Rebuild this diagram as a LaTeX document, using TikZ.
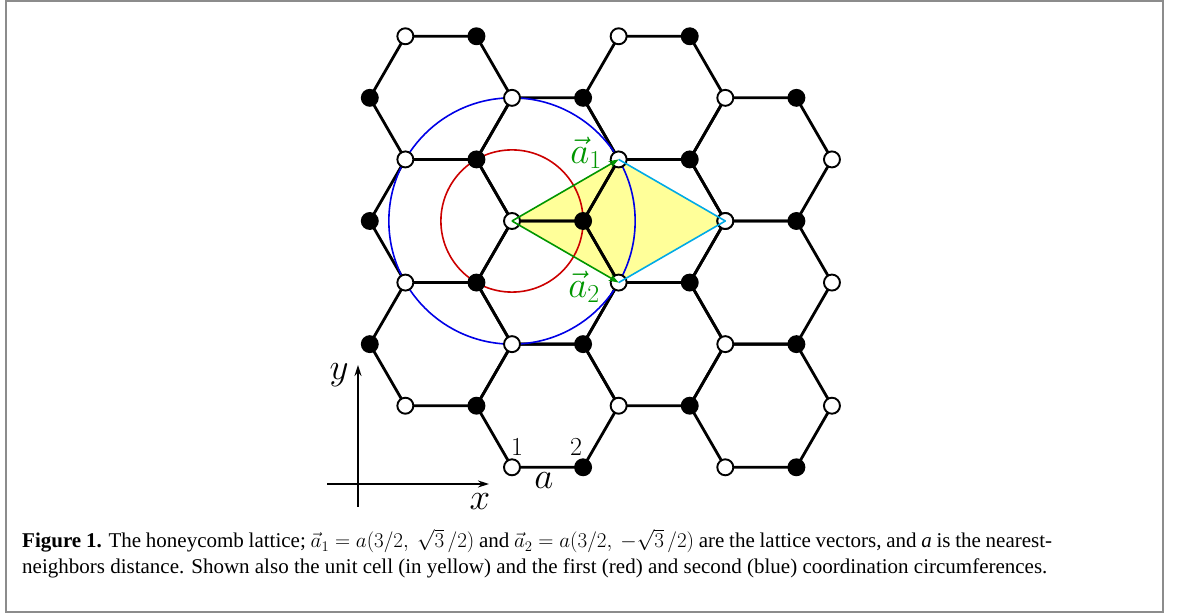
\RequirePackage{fix-cm}
\documentclass[tikz,border=0pt]{standalone}
\usepackage{fontspec}
\newfontfamily\capfont{Liberation Serif}
\usetikzlibrary{arrows.meta}
\definecolor{latyellow}{RGB}{255,255,153}
\definecolor{circred}{RGB}{204,0,0}
\definecolor{circblue}{RGB}{0,0,230}
\definecolor{vecgreen}{RGB}{0,150,0}
\definecolor{cellcyan}{RGB}{0,170,230}
\definecolor{framegray}{RGB}{140,140,140}
\begin{document}
\begin{tikzpicture}[x=1pt,y=1pt,
  bond/.style={line width=2.8pt, line join=round},
  whiteatom/.style={circle, draw=black, fill=white, line width=1.9pt, minimum size=16pt, inner sep=0pt},
  blackatom/.style={circle, draw=black, fill=black, line width=1.9pt, minimum size=16pt, inner sep=0pt},
  coordcirc/.style={line width=1.6pt},
  latvec/.style={vecgreen, line width=1.6pt, -{Stealth[length=10pt,width=7pt]}},
  cellside/.style={cellcyan, line width=1.6pt, line join=round},
  biglabel/.style={inner sep=0pt, font=\fontsize{37}{42}\selectfont},
  smalllabel/.style={inner sep=0pt, font=\fontsize{26}{30}\selectfont},
  axis/.style={line width=1.6pt, -{Stealth[length=11pt,width=7pt]}},
  captext/.style={inner sep=0pt, anchor=base west, font=\capfont\fontsize{21}{25}\selectfont}
]
\useasboundingbox (0,0) rectangle (1179,615);
\draw[framegray, line width=2pt] (6,3) rectangle (1163,613.5);

\begin{scope}[shift={(512pt,394pt)}, x=71.1pt, y=71.1pt]
\coordinate (pO) at (0,0);
\coordinate (pA1) at (1.5,0.8660254);
\coordinate (pA2) at (1.5,-0.8660254);
\coordinate (pA12) at (3,0);
\fill[latyellow] (pO) -- (pA1) -- (pA12) -- (pA2) -- cycle;
\foreach \cx/\ck in {-1/2, 2/2, -1/0, 0.5/1, 2/0, 3.5/1, 0.5/-1, 3.5/-1, -1/-2, 2/-2, 0.5/-3, 3.5/-3}
  \draw[bond, shift={(\cx,\ck*0.8660254)}] (1,0) -- (0.5,0.8660254) -- (-0.5,0.8660254) -- (-1,0) -- (-0.5,-0.8660254) -- (0.5,-0.8660254) -- cycle;
\draw[circred, coordcirc] (pO) circle[radius=1];
\draw[circblue, coordcirc] (pO) circle[radius=1.7320508];
\foreach \x/\k [count=\i] in {-1.5/3, 1.5/3, 0/2, 3/2, -1.5/1, 4.5/1, 3/0, -1.5/-1, 4.5/-1, 0/-2, 3/-2, -1.5/-3, 1.5/-3, 4.5/-3, 0/-4, 3/-4}
  \node[whiteatom] (w\i) at (\x,\k*0.8660254) {};
\node[whiteatom] (O) at (pO) {};
\node[whiteatom] (A1) at (pA1) {};
\node[whiteatom] (A2) at (pA2) {};
\node[whiteatom] (A12) at (pA12) {};
\foreach \x/\k [count=\i] in {-0.5/3, 2.5/3, -2/2, 1/2, 4/2, -0.5/1, 2.5/1, -2/0, 1/0, 4/0, -0.5/-1, 2.5/-1, -2/-2, 1/-2, 4/-2, -0.5/-3, 2.5/-3, 1/-4, 4/-4}
  \node[blackatom] (b\i) at (\x,\k*0.8660254) {};
\draw[cellside] (A1.center) -- (A12.center) -- (A2.center);
\draw[latvec] (O.center) -- (A1.center);
\draw[latvec] (O.center) -- (A2.center);
\end{scope}

\node[biglabel, text=vecgreen] (la1) at (586,462) {$\vec{a}_1$};
\node[biglabel, text=vecgreen] (la2) at (584,328) {$\vec{a}_2$};

\coordinate (yb) at (358,108);
\coordinate (yt) at (358,250);
\coordinate (xl) at (327,131);
\coordinate (xr) at (489,131);
\draw[axis] (yb) -- (yt);
\draw[axis] (xl) -- (xr);
\node[biglabel] (ly) at (339,240) {$y$};
\node[biglabel] (lx) at (480,113) {$x$};
\node[smalllabel] (l1) at (517,168) {$1$};
\node[smalllabel] (l2) at (576,168) {$2$};
\node[biglabel] (la) at (544,134) {$a$};

\node[captext] (cap1) at (22,67) {\makebox[1030pt][s]{\textbf{Figure 1.} The honeycomb lattice; $\vec{a}_1 = a(3/2,\ \sqrt{3}\,/2)$ and $\vec{a}_2 = a(3/2,\ -\sqrt{3}\,/2)$ are the lattice vectors, and \textit{a} is the nearest-}};
\node[captext] (cap2) at (22,41) {neighbors distance. Shown also the unit cell (in yellow) and the first (red) and second (blue) coordination circumferences.};
\end{tikzpicture}
\end{document}
